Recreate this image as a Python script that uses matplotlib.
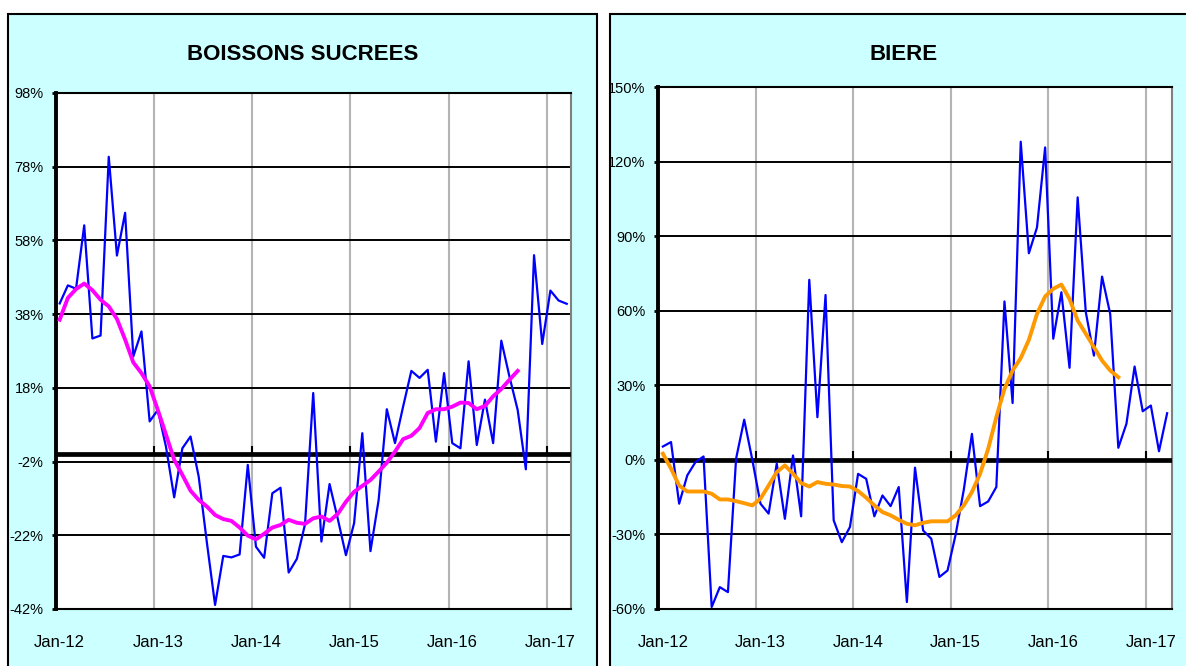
import numpy as np
import matplotlib
matplotlib.use("Agg")
import matplotlib.pyplot as plt
from matplotlib.patches import Rectangle

plt.rcParams['font.family'] = ['Liberation Sans', 'DejaVu Sans']

# monthly growth, Jan-12 .. Mar-17 (%)
sucre_blue = [40.9, 45.8, 44.9, 62.1, 31.4, 32.2, 80.7, 53.9, 65.5, 26.5, 33.3,
              8.9, 12.0, 2.0, -11.7, 1.6, 4.8, -6.1, -24.0, -40.9, -27.6,
              -28.0, -27.2, -2.9, -25.1, -28.1, -10.6, -9.1, -32.1, -28.4, -19.0,
              16.6, -23.7, -8.1, -17.5, -27.4, -18.7, 5.7, -26.3, -12.4, 12.2,
              3.0, 13.0, 22.6, 20.7, 22.9, 3.4, 22.0, 3.0, 1.6, 25.2,
              2.5, 14.8, 3.0, 30.8, 21.0, 12.0, -4.1, 54.0, 29.9, 44.4, 41.7, 40.8]
sucre_ma = [36.5, 42.4, 44.8, 46.3, 44.5, 41.9, 40.1, 36.7, 31.1, 24.9, 22.0,
            18.4, 12.0, 5.3, -1.5, -5.6, -9.9, -12.4, -14.2, -16.5, -17.6,
            -18.1, -19.9, -22.1, -23.1, -21.6, -19.9, -19.2, -17.8, -18.6, -18.9,
            -17.4, -16.9, -18.1, -16.2, -12.9, -10.2, -8.6, -7.0, -4.7, -2.3,
            0.7, 4.1, 5.0, 7.1, 11.2, 12.2, 12.2, 12.9, 14.0, 13.9,
            12.2, 13.1, 15.7, 17.7, 20.2, 22.6]

biere_blue = [5.4, 7.2, -17.6, -6.2, -0.9, 1.4, -59.2, -51.2, -53.2, 0.5,
              16.2, 0.0, -17.6, -21.6, -1.5, -23.7, 1.8, -22.7, 72.5, 17.2,
              66.4, -24.3, -33.1, -27.0, -5.6, -7.6, -22.7, -14.3, -18.6, -10.9,
              -57.2, -3.1, -28.4, -31.7, -47.1, -44.5, -30.0, -12.0, 10.5, -18.6,
              -16.7, -10.9, 63.8, 22.9, 128.1, 83.2, 93.6, 125.8, 48.8, 67.5,
              37.1, 105.7, 59.5, 42.0, 73.8, 58.8, 4.9, 14.6, 37.6, 19.6, 21.9, 3.5, 18.8]
biere_ma = [2.5, -3.5, -10.3, -12.7, -12.7, -12.7, -13.6, -15.9, -15.9, -16.6,
            -17.4, -18.3, -15.6, -10.3, -4.9, -2.2, -5.5, -9.3, -10.7, -8.9,
            -9.6, -9.9, -10.5, -10.7, -12.5, -15.2, -18.3, -21.0, -22.3, -24.1,
            -25.7, -26.3, -25.3, -24.7, -24.7, -24.7, -22.3, -18.3, -12.9, -5.6,
            4.5, 17.2, 28.6, 36.0, 41.0, 48.3, 58.8, 65.8, 68.9, 70.6,
            64.8, 56.1, 50.8, 45.4, 40.0, 36.0, 33.3]

year_labels = ['Jan-12', 'Jan-13', 'Jan-14', 'Jan-15', 'Jan-16', 'Jan-17']
year_pos = [0, 12, 24, 36, 48, 60]
sucre_yticks = [-42, -22, -2, 18, 38, 58, 78, 98]
biere_yticks = [-60, -30, 0, 30, 60, 90, 120, 150]

W, H = 1186, 666
fig = plt.figure(figsize=(W / 100, H / 100), dpi=100)

# cyan chart panels, behind the axes
for x0, w in [(8, 589), (610, 600)]:
    fig.patches.append(Rectangle((x0 / W, -0.05), w / W, 1.05 - 14 / H,
                                 transform=fig.transFigure, facecolor='#CCFFFF',
                                 edgecolor='black', lw=1.5, zorder=-5))


def draw(rect, blue, ma, ma_color, yticks, xlim, grid_off, tick_h, title, title_x):
    ax = fig.add_axes(rect, zorder=2)
    ax.set_facecolor('white')
    x = np.arange(len(blue))
    ax.plot(x, blue, color='#0000FF', lw=1.6, zorder=4)
    ax.plot(x[:len(ma)], ma, color=ma_color, lw=2.8, zorder=5)

    ax.set_xlim(*xlim)
    ax.set_ylim(yticks[0], yticks[-1])
    ax.set_yticks(yticks)
    ax.set_yticklabels([f'{v}%' for v in yticks])
    ax.set_xticks(year_pos)
    ax.set_xticklabels(year_labels)
    grid_pos = [p - grid_off for p in year_pos]
    ax.set_xticks(grid_pos, minor=True)
    ax.grid(axis='x', which='minor', color='#b4b4b4', lw=1.5)
    ax.grid(axis='y', which='major', color='black', lw=1.4)
    ax.set_axisbelow(True)
    ax.tick_params(axis='x', which='both', length=0, pad=19, labelsize=12)
    ax.tick_params(axis='y', length=3, width=2, pad=6, labelsize=10.5)

    ax.axhline(0, color='black', lw=3.4, zorder=3)
    ax.vlines(grid_pos[1:], 0, tick_h, color='black', lw=1.5, zorder=3)

    for s in ['top', 'bottom']:
        ax.spines[s].set_linewidth(1.5)
    ax.spines['left'].set_linewidth(2.8)
    ax.spines['right'].set_color('#808080')
    ax.spines['right'].set_linewidth(1.5)

    fig.text(title_x / W, 1 - 55 / H, title, ha='center', va='center',
             fontsize=16, fontweight='bold')
    return ax


draw([56 / W, 1 - 609 / H, 515 / W, 516 / H], sucre_blue, sucre_ma, '#FF00FF',
     sucre_yticks, (-0.28, 62.52), 0.45, 2.3, 'BOISSONS SUCREES', 303)
draw([658 / W, 1 - 609 / H, 514 / W, 521.7 / H], biere_blue, biere_ma, '#FF9900',
     biere_yticks, (-0.53, 62.6), 0.6, 3.5, 'BIERE', 904)

fig.savefig('out.png', dpi=100, facecolor='white')
